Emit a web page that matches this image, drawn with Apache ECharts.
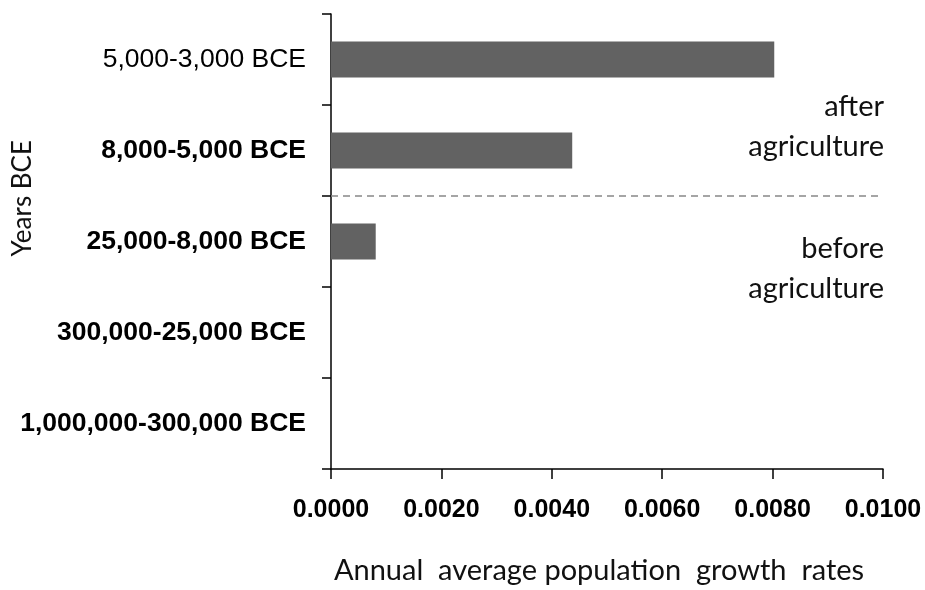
<!DOCTYPE html>
<html>
<head>
<meta charset="utf-8">
<script src="https://cdn.jsdelivr.net/npm/echarts@6/dist/echarts.min.js"></script>
<style>
html,body{margin:0;padding:0;background:#fff;}
#chart{width:925px;height:590px;}
</style>
</head>
<body>
<div id="chart"></div>
<script>
// Categories, top to bottom
const periods = ['5,000-3,000 BCE', '8,000-5,000 BCE', '25,000-8,000 BCE', '300,000-25,000 BCE', '1,000,000-300,000 BCE'];
const growthRates = [0.00803, 0.00437, 0.00081, 0, 0];
const xTicks = [0, 0.002, 0.004, 0.006, 0.008, 0.01];
const dividerValue = 3; // boundary between "after" and "before" agriculture (bottom-up band units)
const annotations = [
  { text: 'after\nagriculture', y: 87 },
  { text: 'before\nagriculture', y: 229 }
];

const chart = echarts.init(document.getElementById('chart'));
const labelFont = 'Liberation Sans, Arial, sans-serif';
const textFont = 'Lato, "Open Sans", sans-serif';

chart.setOption({
  animation: false,
  backgroundColor: '#fff',
  grid: { left: 331, right: 42, top: 14, bottom: 113, containLabel: false },
  xAxis: {
    type: 'value',
    min: xTicks[0], max: xTicks[xTicks.length - 1], interval: 0.002,
    name: 'Annual  average population  growth  rates',
    nameLocation: 'middle', nameGap: 87,
    nameTextStyle: { fontFamily: textFont, fontSize: 29, color: '#111', padding: [0, 16, 0, 0] },
    axisLine: { show: true, lineStyle: { color: '#000', width: 1.5 } },
    axisTick: { show: true, length: 10, lineStyle: { color: '#000', width: 1.5 } },
    axisLabel: {
      margin: 29, fontFamily: labelFont, fontWeight: 'bold', fontSize: 25, color: '#000',
      formatter: v => v.toFixed(4)
    },
    splitLine: { show: false }
  },
  yAxis: [{
    type: 'category',
    data: periods,
    inverse: true,
    axisLine: { show: true, lineStyle: { color: '#000', width: 1.5 } },
    axisTick: { show: true, length: 9, lineStyle: { color: '#000', width: 1.5 } },
    axisLabel: {
      margin: 25, fontFamily: labelFont, fontSize: 26.5, color: '#000',
      formatter: (v, i) => i === 0 ? '{n|' + v + '}' : '{b|' + v + '}',
      rich: {
        n: { fontFamily: labelFont, fontSize: 26.5, color: '#000', fontWeight: 'normal' },
        b: { fontFamily: labelFont, fontSize: 26.5, color: '#000', fontWeight: 'bold' }
      }
    }
  }, {
    type: 'value', min: 0, max: 5, show: false
  }],
  graphic: [
    {
      type: 'text', left: 10, top: 140, rotation: Math.PI / 2,
      originX: 0, originY: 0,
      style: { text: 'Years BCE', font: '26px ' + textFont, fill: '#111' }
    }
  ].concat(annotations.map(a => ({
    type: 'text', right: 41, top: a.y,
    style: { text: a.text, font: '29px ' + textFont, fill: '#111', textAlign: 'right', lineHeight: 40 }
  }))),
  series: [{
    type: 'bar',
    data: growthRates,
    barWidth: 36,
    itemStyle: { color: '#626262' }
  }, {
    type: 'line', yAxisIndex: 1, data: [],
    markLine: {
      silent: true, symbol: 'none',
      label: { show: false },
      lineStyle: { color: '#888', type: [7, 5], width: 1.5 },
      data: [{ yAxis: dividerValue }]
    }
  }]
});
</script>
</body>
</html>
